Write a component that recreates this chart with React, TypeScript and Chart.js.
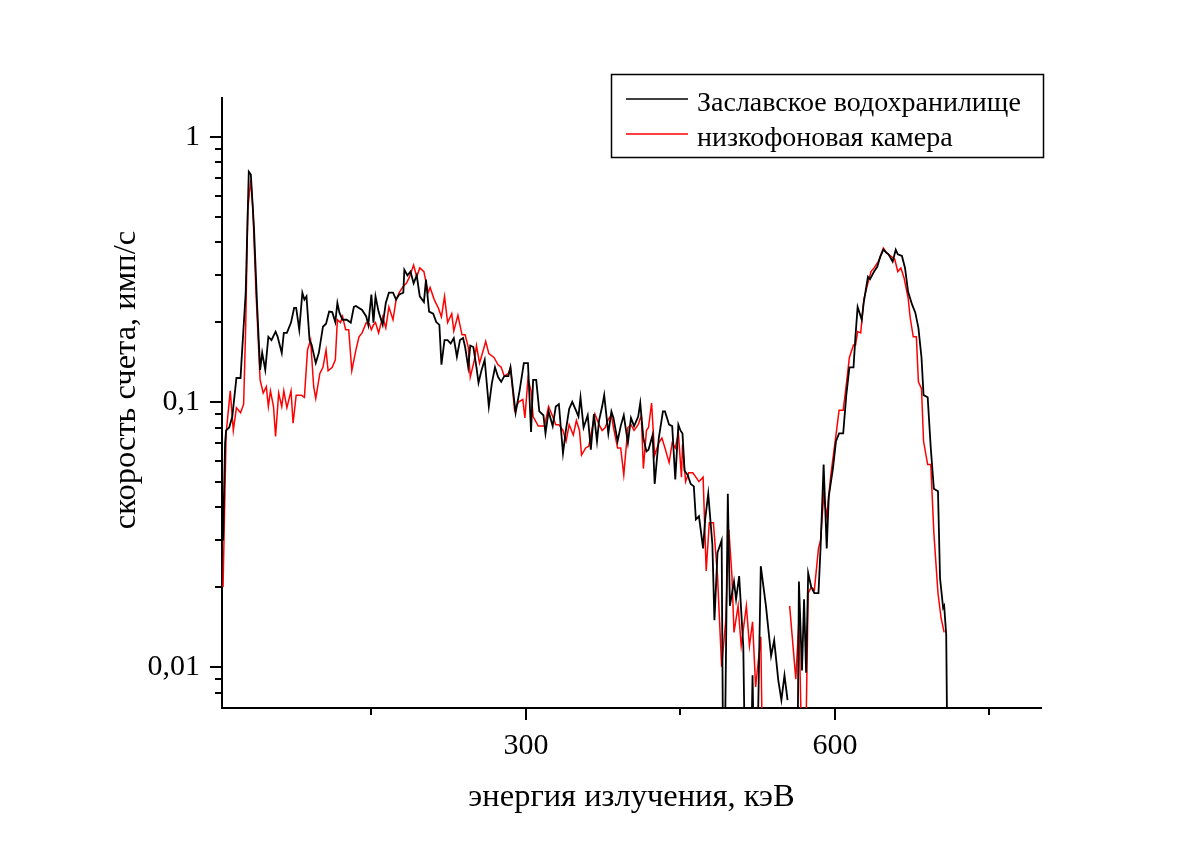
import React, { useEffect, useRef } from 'react';
import { Chart, registerables } from 'chart.js';

Chart.register(...registerables);

// ---- data ----
const seriesNames = ['Заславское водохранилище', 'низкофоновая камера'];
const seriesColors = ['#000000', '#ff0000'];

const blackEnergy = [
  6, 8, 9, 12, 15, 19, 23, 24, 28, 31, 33, 36, 39, 42, 44, 47, 50, 53, 57, 59,
  63, 65, 68, 72, 75, 77, 80, 83, 85, 87, 90, 92, 96, 99, 103, 106, 109, 112, 115, 117,
  119, 122, 126, 130, 133, 135, 138, 141, 145, 147, 150, 152, 154, 157, 161, 164, 167, 171, 174, 177,
  181, 182, 185, 188, 191, 194, 197, 201, 203, 206, 210, 213, 216, 218, 221, 224, 227, 230, 233, 236,
  239, 241, 244, 246, 249, 252, 254, 257, 260, 264, 267, 270, 273, 276, 279, 283, 285, 290, 294, 298,
  302, 305, 307, 310, 313, 317, 319, 322, 326, 329, 332, 336, 339, 342, 345, 349, 351, 353, 356, 360,
  363, 366, 369, 371, 374, 376, 380, 383, 385, 389, 392, 395, 399, 402, 405, 409, 411, 414, 417, 419,
  423, 425, 429, 433, 435, 439, 442, 445, 448, 450, 452, 454, 457, 460, 463, 465, 468, 472, 474, 477,
  481, 483, 486, 490, 492, 496, 498, 502, 504, 507, 511, 514, 517, 520, 523, 528, 533, 538, 541, 545,
  548, 551, 554, 558, 563, 565, 568, 570, 572, 574, 577, 580, 584, 586, 589, 592, 594, 598, 601, 604,
  608, 611, 614, 618, 620, 622, 626, 628, 632, 634, 638, 641, 644, 647, 650, 652, 656, 659, 661, 665,
  668, 671, 675, 678, 681, 684, 686, 690, 693, 696, 700, 702, 705, 706, 708, 710,
];
const blackRate = [
  0.03, 0.07, 0.078, 0.08, 0.088, 0.123, 0.123, 0.144, 0.258, 0.738, 0.72, 0.457, 0.236, 0.132, 0.153, 0.132, 0.176, 0.171, 0.184, 0.176,
  0.153, 0.182, 0.182, 0.199, 0.226, 0.226, 0.187, 0.258, 0.243, 0.25, 0.171, 0.164, 0.14, 0.153, 0.192, 0.197, 0.219, 0.218, 0.2, 0.236,
  0.217, 0.204, 0.204, 0.199, 0.228, 0.23, 0.226, 0.222, 0.21, 0.195, 0.254, 0.199, 0.25, 0.219, 0.195, 0.236, 0.258, 0.258, 0.243, 0.254,
  0.258, 0.315, 0.3, 0.31, 0.28, 0.3, 0.25, 0.238, 0.289, 0.219, 0.215, 0.2, 0.195, 0.138, 0.171, 0.171, 0.166, 0.174, 0.148, 0.171,
  0.174, 0.161, 0.135, 0.163, 0.161, 0.135, 0.118, 0.132, 0.144, 0.096, 0.118, 0.135, 0.124, 0.119, 0.125, 0.125, 0.135, 0.091, 0.111, 0.14,
  0.14, 0.077, 0.121, 0.121, 0.092, 0.089, 0.076, 0.092, 0.081, 0.096, 0.098, 0.064, 0.079, 0.094, 0.1, 0.092, 0.088, 0.104, 0.08, 0.089,
  0.066, 0.09, 0.071, 0.085, 0.096, 0.106, 0.076, 0.092, 0.087, 0.071, 0.081, 0.089, 0.07, 0.087, 0.081, 0.088, 0.099, 0.073, 0.065, 0.066,
  0.075, 0.049, 0.073, 0.092, 0.092, 0.082, 0.081, 0.051, 0.082, 0.078, 0.076, 0.055, 0.053, 0.049, 0.048, 0.036, 0.037, 0.028, 0.036, 0.045,
  0.029, 0.015, 0.027, 0.03, 0.002, 0.045, 0.017, 0.021, 0.018, 0.022, 0.012, 0.002, 0.002, 0.0093, 0.002, 0.024, 0.017, 0.011, 0.0126, 0.0089,
  0.0075, 0.0093, 0.0075, null, 0.002, 0.021, 0.0097, 0.018, 0.0095, 0.0226, 0.02, 0.019, 0.019, 0.028, 0.058, 0.028, 0.044, 0.056, 0.071, 0.076,
  0.076, 0.106, 0.135, 0.135, 0.179, 0.228, 0.204, 0.238, 0.296, 0.29, 0.31, 0.323, 0.353, 0.375, 0.365, 0.36, 0.338, 0.375, 0.36, 0.355,
  0.32, 0.26, 0.232, 0.217, 0.19, 0.147, 0.106, 0.104, 0.067, 0.047, 0.046, 0.0216, 0.0167, 0.017, 0.0132, 0.002,
];

const redEnergy = [
  6, 9, 13, 16, 19, 23, 26, 28, 30, 33, 35, 38, 42, 45, 48, 50, 52, 55, 57, 60,
  63, 65, 68, 72, 74, 77, 82, 85, 88, 91, 94, 96, 100, 103, 106, 108, 112, 115, 117, 120,
  122, 125, 128, 131, 135, 138, 141, 145, 148, 150, 152, 154, 157, 161, 164, 167, 171, 174, 177, 181,
  184, 187, 191, 194, 197, 201, 205, 207, 211, 215, 218, 221, 224, 228, 230, 234, 238, 241, 244, 246,
  250, 252, 255, 261, 264, 269, 273, 276, 279, 283, 285, 289, 293, 297, 299, 302, 305, 307, 312, 318,
  322, 326, 329, 332, 336, 339, 342, 346, 349, 352, 354, 358, 361, 365, 367, 371, 374, 377, 380, 383,
  385, 389, 392, 395, 399, 402, 405, 409, 412, 414, 417, 419, 422, 425, 429, 432, 435, 439, 442, 445,
  448, 451, 452, 455, 458, 462, 465, 468, 472, 475, 478, 482, 486, 490, 494, 497, 500, 502, 506, 509,
  514, 517, 520, 523, 528, 531, 536, 540, 556, 562, 565, 570, 574, 577, 580, 584, 586, 589, 592, 596,
  601, 604, 608, 611, 614, 618, 620, 622, 625, 628, 632, 635, 638, 642, 644, 647, 650, 652, 656, 658,
  661, 664, 667, 671, 673, 676, 679, 681, 684, 686, 690, 693, 696, 700, 703, 706,
];
const redRate = [
  0.02, 0.076, 0.11, 0.078, 0.095, 0.091, 0.098, 0.192, 0.53, 0.69, 0.53, 0.258, 0.121, 0.108, 0.114, 0.096, 0.11, 0.096, 0.074, 0.108,
  0.096, 0.11, 0.095, 0.11, 0.083, 0.106, 0.106, 0.104, 0.157, 0.171, 0.114, 0.103, 0.128, 0.135, 0.157, 0.131, 0.135, 0.144, 0.204, 0.199,
  0.21, 0.187, 0.187, 0.131, 0.157, 0.176, 0.182, 0.199, 0.197, 0.187, 0.195, 0.199, 0.182, 0.209, 0.19, 0.228, 0.204, 0.243, 0.258, 0.273,
  0.28, 0.296, 0.328, 0.296, 0.32, 0.31, 0.258, 0.27, 0.243, 0.226, 0.209, 0.25, 0.199, 0.215, 0.185, 0.212, 0.179, 0.179, 0.161, 0.124,
  0.144, 0.163, 0.14, 0.169, 0.152, 0.147, 0.138, 0.135, 0.125, 0.128, 0.135, 0.093, 0.1, 0.102, 0.087, 0.122, 0.11, 0.088, 0.081, 0.081,
  0.096, 0.088, 0.082, 0.082, 0.078, 0.071, 0.082, 0.075, 0.085, 0.078, 0.063, 0.067, 0.068, 0.082, 0.09, 0.082, 0.078, 0.08, 0.086, 0.089,
  0.08, 0.067, 0.067, 0.053, 0.08, 0.082, 0.078, 0.082, 0.089, 0.056, 0.078, 0.08, 0.099, 0.063, 0.07, 0.073, 0.067, 0.059, 0.07, 0.067,
  0.076, 0.052, 0.069, 0.05, 0.054, 0.054, 0.052, 0.05, 0.052, 0.023, 0.035, 0.035, 0.022, 0.01, 0.015, 0.033, 0.022, 0.0135, 0.017, 0.012,
  0.017, 0.012, 0.0148, 0.0084, 0.013, 0.002, 0.002, null, 0.017, 0.009, 0.015, 0.002, 0.019, 0.02, 0.0195, 0.028, 0.03, 0.044, 0.037, 0.053,
  0.075, 0.093, 0.093, 0.116, 0.147, 0.164, 0.164, 0.184, 0.182, 0.243, 0.281, 0.31, 0.32, 0.338, 0.353, 0.38, 0.365, 0.36, 0.35, 0.345,
  0.31, 0.32, 0.294, 0.247, 0.208, 0.176, 0.176, 0.119, 0.112, 0.071, 0.058, 0.058, 0.032, 0.019, 0.0153, 0.0135,
];

const xRange = [5, 800];
const xTickValues = [150, 300, 450, 600, 750];
const xTickLabels = ['', '300', '', '600', ''];
const yRange = [0.007, 1.4];
const yTickValues = [
  0.008, 0.009, 0.01, 0.02, 0.03, 0.04, 0.05, 0.06, 0.07, 0.08, 0.09,
  0.1, 0.2, 0.3, 0.4, 0.5, 0.6, 0.7, 0.8, 0.9, 1,
];
const yTickLabels = [
  '', '', '0,01', '', '', '', '', '', '', '', '',
  '0,1', '', '', '', '', '', '', '', '', '1',
];
const xTitle = 'энергия излучения, кэВ';
const yTitle = 'скорость счета, имп/с';

const FONT = "'Liberation Serif', 'Times New Roman', serif";

const tickMarksPlugin = {
  id: 'tickMarks',
  afterDraw(chart: any) {
    const { ctx, chartArea } = chart;
    const xs = chart.scales.x;
    const ys = chart.scales.y;
    ctx.save();
    ctx.strokeStyle = '#000';
    ctx.lineWidth = 2;
    xs.ticks.forEach((t: any, i: number) => {
      const px = Math.round(xs.getPixelForValue(t.value));
      const len = xTickLabels[i] ? 12 : 7;
      ctx.beginPath();
      ctx.moveTo(px, chartArea.bottom);
      ctx.lineTo(px, chartArea.bottom + len);
      ctx.stroke();
    });
    ys.ticks.forEach((t: any, i: number) => {
      const py = Math.round(ys.getPixelForValue(t.value));
      const len = yTickLabels[i] ? 12 : 7;
      ctx.beginPath();
      ctx.moveTo(chartArea.left, py);
      ctx.lineTo(chartArea.left - len, py);
      ctx.stroke();
    });
    // y axis title, drawn rotated to the left of the axis
    const title = ys.options.title.text;
    ctx.fillStyle = '#000';
    ctx.font = `32.5px ${FONT}`;
    ctx.textAlign = 'center';
    ctx.textBaseline = 'middle';
    ctx.translate(126, 380);
    ctx.rotate(-Math.PI / 2);
    ctx.fillText(title, 0, 0);
    ctx.restore();
  },
};

const legendBoxPlugin = {
  id: 'legendBox',
  afterDraw(chart: any) {
    const { ctx } = chart;
    ctx.save();
    ctx.strokeStyle = '#000';
    ctx.lineWidth = 1.5;
    ctx.strokeRect(611.5, 74.5, 432, 83);
    chart.data.datasets.forEach((ds: any, i: number) => {
      const y = 99 + i * 35;
      ctx.strokeStyle = ds.borderColor;
      ctx.lineWidth = 1.5;
      ctx.beginPath();
      ctx.moveTo(626, y);
      ctx.lineTo(688, y);
      ctx.stroke();
      ctx.fillStyle = '#000';
      ctx.font = `28px ${FONT}`;
      ctx.textBaseline = 'alphabetic';
      ctx.textAlign = 'left';
      ctx.fillText(ds.label, 697, y + 12);
    });
    ctx.restore();
  },
};

export default function App() {
  const ref = useRef<HTMLCanvasElement>(null);

  useEffect(() => {
    if (!ref.current) return;
    const mk = (es: number[], rs: (number | null)[]) => es.map((e, i) => ({ x: e, y: rs[i] }));
    const chart = new Chart(ref.current, {
      type: 'line',
      data: {
        datasets: [
          {
            label: seriesNames[0],
            data: mk(blackEnergy, blackRate),
            borderColor: seriesColors[0],
            borderWidth: 1.8,
            pointRadius: 0,
            tension: 0,
            spanGaps: false,
            fill: false,
          },
          {
            label: seriesNames[1],
            data: mk(redEnergy, redRate),
            borderColor: seriesColors[1],
            borderWidth: 1.5,
            pointRadius: 0,
            tension: 0,
            spanGaps: false,
            fill: false,
          },
        ],
      },
      options: {
        responsive: false,
        animation: false,
        devicePixelRatio: 1,
        layout: { padding: { top: 98, right: 160, left: 0, bottom: 0 } },
        plugins: {
          legend: { display: false },
          tooltip: { enabled: false },
        },
        scales: {
          x: {
            type: 'linear',
            min: xRange[0],
            max: xRange[1],
            afterBuildTicks: (s: any) => {
              s.ticks = xTickValues.map((v) => ({ value: v }));
            },
            afterFit: (s: any) => {
              s.height = 143;
            },
            grid: { display: false, drawTicks: true, tickLength: 12 },
            border: { display: true, color: '#000', width: 2 },
            ticks: {
              autoSkip: false,
              maxRotation: 0,
              padding: 8,
              color: '#000',
              font: { family: FONT, size: 30 },
              callback: (_v: any, i: number) => xTickLabels[i],
            },
            title: {
              display: true,
              text: xTitle,
              color: '#000',
              font: { family: FONT, size: 32.5 },
              padding: { top: 0, bottom: 34 },
            },
          },
          y: {
            type: 'logarithmic',
            min: yRange[0],
            max: yRange[1],
            afterBuildTicks: (s: any) => {
              s.ticks = yTickValues.map((v) => ({ value: v }));
            },
            afterFit: (s: any) => {
              s.width = 222;
            },
            grid: { display: false, drawTicks: true, tickLength: 12 },
            border: { display: true, color: '#000', width: 2 },
            ticks: {
              autoSkip: false,
              padding: 10,
              color: '#000',
              font: { family: FONT, size: 30 },
              callback: (_v: any, i: number) => yTickLabels[i],
            },
            title: {
              display: false,
              text: yTitle,
            },
          },
        },
      },
      plugins: [tickMarksPlugin, legendBoxPlugin],
    } as any);
    return () => chart.destroy();
  }, []);

  return (
    <div style={{ position: 'fixed', left: 0, top: 0, width: 1201, height: 851, background: '#fff' }}>
      <canvas ref={ref} width={1201} height={851} style={{ display: 'block' }} />
    </div>
  );
}
